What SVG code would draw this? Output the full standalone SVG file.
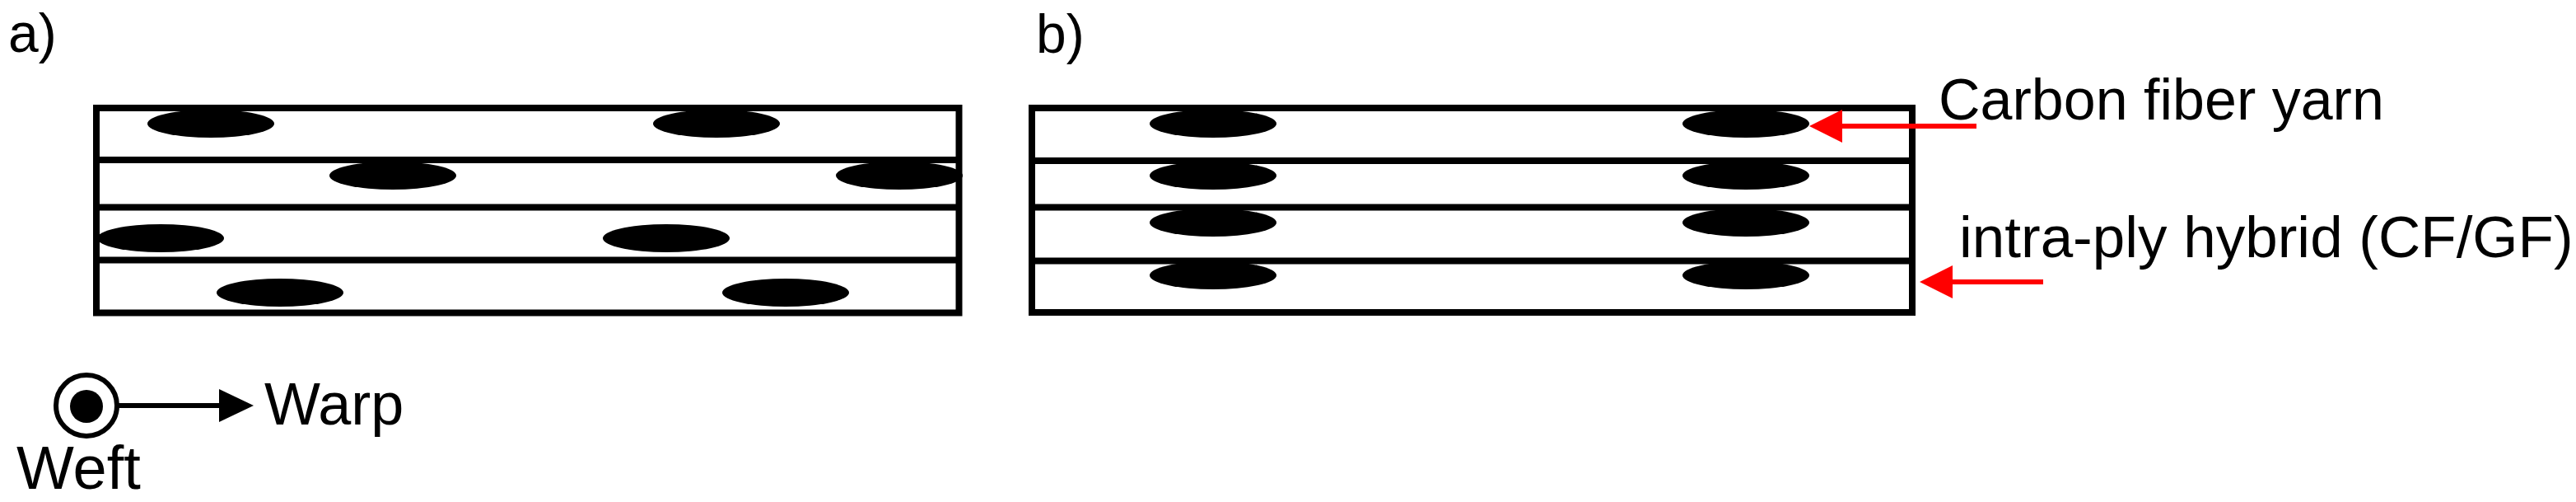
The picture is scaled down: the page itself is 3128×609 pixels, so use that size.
<svg xmlns="http://www.w3.org/2000/svg" width="3128" height="609" viewBox="0 0 3128 609">
<style>
.lbl{font-family:"Liberation Sans",Arial,sans-serif;fill:#000}
.ply{fill:none;stroke:#000;stroke-width:8}
.sep{stroke:#000;stroke-width:8}
.yarn{fill:#000}
.red{stroke:#ff0000;stroke-width:6;fill:none}
.blk{stroke:#000;stroke-width:6;fill:none}
</style>
<defs>
<marker id="redHead" viewBox="0 0 40 40" refX="0" refY="20" markerWidth="40" markerHeight="40" markerUnits="userSpaceOnUse" orient="auto">
<path d="M0,0 L40,20 L0,40 Z" fill="#ff0000"/>
</marker>
<marker id="blkHead" viewBox="0 0 42 40" refX="0" refY="20" markerWidth="42" markerHeight="40" markerUnits="userSpaceOnUse" orient="auto">
<path d="M0,0 L42,20 L0,40 Z" fill="#000"/>
</marker>
</defs>
<rect width="3128" height="609" fill="#fff"/>

<g id="panel-a">
<text class="lbl" x="10" y="63" font-size="66">a)</text>
<rect class="ply" x="117" y="131" width="1047.5" height="248.5"/>
<line class="sep" x1="117" y1="194" x2="1164.5" y2="194"/>
<line class="sep" x1="117" y1="251.5" x2="1164.5" y2="251.5"/>
<line class="sep" x1="117" y1="315.5" x2="1164.5" y2="315.5"/>
<ellipse class="yarn" cx="256" cy="150" rx="77" ry="17"/>
<ellipse class="yarn" cx="870" cy="150" rx="77" ry="17"/>
<ellipse class="yarn" cx="477" cy="213" rx="77" ry="17"/>
<ellipse class="yarn" cx="1092" cy="213" rx="77" ry="17"/>
<ellipse class="yarn" cx="195" cy="289" rx="77" ry="17"/>
<ellipse class="yarn" cx="809" cy="289" rx="77" ry="17"/>
<ellipse class="yarn" cx="340" cy="355" rx="77" ry="17"/>
<ellipse class="yarn" cx="954" cy="355" rx="77" ry="17"/>
</g>

<g id="panel-b">
<text class="lbl" x="1258" y="64" font-size="66">b)</text>
<rect class="ply" x="1253" y="131" width="1069" height="248"/>
<line class="sep" x1="1253" y1="195" x2="2322" y2="195"/>
<line class="sep" x1="1253" y1="251.5" x2="2322" y2="251.5"/>
<line class="sep" x1="1253" y1="316.5" x2="2322" y2="316.5"/>
<ellipse class="yarn" cx="1473" cy="150" rx="77" ry="17"/>
<ellipse class="yarn" cx="2120" cy="150" rx="77" ry="17"/>
<ellipse class="yarn" cx="1473" cy="213" rx="77" ry="17"/>
<ellipse class="yarn" cx="2120" cy="213" rx="77" ry="17"/>
<ellipse class="yarn" cx="1473" cy="270" rx="77" ry="17"/>
<ellipse class="yarn" cx="2120" cy="270" rx="77" ry="17"/>
<ellipse class="yarn" cx="1473" cy="334" rx="77" ry="17"/>
<ellipse class="yarn" cx="2120" cy="334" rx="77" ry="17"/>
</g>

<g id="label-carbon">
<text class="lbl" x="2354" y="145" font-size="70">Carbon fiber yarn</text>
</g>
<g id="label-hybrid">
<text class="lbl" x="2379" y="312" font-size="71">intra-ply hybrid (CF/GF)</text>
</g>

<g id="axes">
<circle cx="105" cy="492" r="37" fill="none" stroke="#000" stroke-width="6"/>
<circle cx="105" cy="493" r="20" fill="#000"/>
<text class="lbl" x="321" y="515" font-size="72">Warp</text>
<text class="lbl" x="20" y="593" font-size="74">Weft</text>
</g>

<g id="connectors">
<line class="red" x1="2400" y1="153" x2="2237" y2="153" marker-end="url(#redHead)"/>
<line class="red" x1="2481" y1="342" x2="2371" y2="342" marker-end="url(#redHead)"/>
<line class="blk" x1="142" y1="492" x2="266" y2="492" marker-end="url(#blkHead)"/>
</g>
</svg>
